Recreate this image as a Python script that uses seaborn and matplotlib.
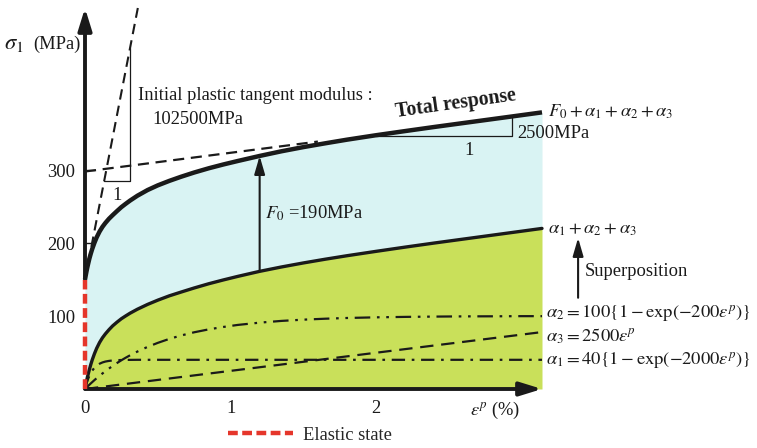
import matplotlib
matplotlib.use("Agg")
import matplotlib.pyplot as plt
from matplotlib.lines import Line2D
import seaborn as sns

# ---------------- data ----------------
strain = [0, 0.005, 0.01, 0.015, 0.02, 0.03, 0.04, 0.05, 0.065, 0.08, 0.1,
          0.12, 0.14, 0.165, 0.19, 0.22, 0.25, 0.28, 0.31, 0.36, 0.43, 0.5,
          0.58, 0.66, 0.75, 0.85, 0.95, 1.05, 1.2, 1.35, 1.5, 1.65, 1.8, 2.0,
          2.2, 2.4, 2.6, 2.8, 3.0, 3.14]
alpha_sum = [0, 5.2, 10.1, 14.7, 18.9, 26.6, 33.7, 40.1, 48.4, 55.7, 63.7,
             70.2, 75.5, 81.3, 86.5, 91.6, 96.3, 100.2, 103.9, 109.3, 115.9, 121.7,
             127.7, 132.8, 138.4, 144.2, 149.4, 154.3, 161.2, 167.2, 172.7, 177.8, 182.6, 188.6,
             194.4, 200.0, 205.4, 210.8, 216.2, 220.0]
total = [150, 155.5, 160.8, 165.7, 170.2, 178.6, 185.7, 192.1, 200.4, 207.7, 215.7,
         222.2, 227.5, 233.3, 238.2, 243.8, 249.2, 253.8, 258.2, 264.8, 272.6, 279.0,
         285.2, 290.8, 296.6, 302.4, 307.6, 312.4, 319.3, 325.7, 331.4, 336.6, 341.6, 347.7,
         353.4, 359.0, 364.4, 369.8, 375.2, 379.0]
alpha1 = [0, 3.8, 7.3, 10.4, 13.2, 18.1, 22.0, 25.3, 29.1, 31.9, 34.6,
          36.4, 37.6, 38.5, 39.1, 39.5, 39.7, 39.9, 39.9, 40, 40, 40,
          40, 40, 40, 40, 40, 40, 40, 40, 40, 40, 40, 40,
          40, 40, 40, 40, 40, 40]
alpha2 = [0, 1.0, 2.0, 3.0, 3.9, 5.8, 7.7, 9.5, 12.2, 14.8, 18.1,
          21.3, 24.4, 28.1, 31.6, 35.6, 39.4, 42.9, 46.2, 51.3, 57.7, 63.2,
          68.7, 73.3, 77.7, 81.7, 85.0, 87.8, 90.9, 93.3, 95.0, 96.3, 97.3, 98.2,
          98.8, 99.2, 99.5, 99.6, 99.8, 99.8]
alpha3_strain = [0, 3.14]
alpha3 = [0, 78]
elastic_strain = [0, 0]
elastic_stress = [0, 150]
tangent_strain = [0, 0.363]
tangent_stress = [150, 522]
asym_strain = [0, 1.6]
asym_stress = [298, 339]
tri1_x = [0.13, 0.309, 0.309]
tri1_y = [285, 285, 467]
tri2_x = [2.0, 2.935, 2.935]
tri2_y = [346, 346, 372]
f0_strain = 1.2
xticks = [0, 1, 2]
yticks = [100, 200, 300]
xmax, ymax = 3.14, 522

# ---------------- style ----------------
sns.set_theme(style="white")
plt.rcParams["font.family"] = ["Liberation Serif", "DejaVu Serif"]
plt.rcParams["mathtext.fontset"] = "stix"
FS = 13.3

W, H = 757, 448
fig = plt.figure(figsize=(W / 100, H / 100), dpi=100)
ax = fig.add_axes([85 / W, 1 - 389 / H, 457 / W, 381 / H])
ax.set_xlim(0, xmax)
ax.set_ylim(0, ymax)
for s in ax.spines.values():
    s.set_visible(False)

GREEN = "#c9e05a"
CYAN = "#d9f3f3"
RED = "#e5362b"

ax.fill_between(strain, 0, alpha_sum, color=GREEN, lw=0, zorder=1)
ax.fill_between(strain, alpha_sum, total, color=CYAN, lw=0, zorder=1)

kw = dict(ax=ax, estimator=None, sort=False, legend=False, clip_on=False)
sns.lineplot(x=strain, y=total, color="k", lw=3.2, zorder=5,
             solid_capstyle="butt", **kw)
sns.lineplot(x=strain, y=alpha_sum, color="k", lw=2.4, zorder=5, **kw)
sns.lineplot(x=strain, y=alpha2, color="k", lw=1.6, zorder=4,
             linestyle=(0, (7, 3, 1.2, 3, 1.2, 3)), **kw)
sns.lineplot(x=strain, y=alpha1, color="k", lw=1.6, zorder=4,
             linestyle=(0, (6, 3, 1.2, 3)), **kw)
sns.lineplot(x=alpha3_strain, y=alpha3, color="k", lw=1.6, zorder=4,
             linestyle=(0, (6, 3.5)), **kw)
sns.lineplot(x=tangent_strain, y=tangent_stress, color="k", lw=1.5, zorder=4,
             linestyle=(0, (5, 3)), **kw)
sns.lineplot(x=asym_strain, y=asym_stress, color="k", lw=1.6, zorder=4,
             linestyle=(0, (5, 3)), **kw)
sns.lineplot(x=tri1_x, y=tri1_y, color="k", lw=0.9, zorder=4, **kw)
sns.lineplot(x=tri2_x, y=tri2_y, color="k", lw=0.9, zorder=6, **kw)

# axes arrows
arr = dict(arrowstyle="-|>,head_length=0.55,head_width=0.17", lw=2.8, color="k",
           mutation_scale=24, shrinkA=0, shrinkB=0)
ax.annotate("", xy=(xmax, 0), xytext=(0, 0), arrowprops=arr,
            annotation_clip=False, zorder=7)
ax.annotate("", xy=(0, ymax), xytext=(0, elastic_stress[1]), arrowprops=arr,
            annotation_clip=False, zorder=7)

# elastic state
sns.lineplot(x=elastic_strain, y=elastic_stress, color=RED, lw=3.2, zorder=8,
             linestyle=(0, (2.2, 1.0)), **kw)

# F0 arrow
i0 = strain.index(f0_strain)
ax.annotate("", xy=(f0_strain, total[i0]), xytext=(f0_strain, alpha_sum[i0]),
            arrowprops=dict(arrowstyle="-|>,head_length=0.55,head_width=0.16",
                            lw=1.5, color="k", mutation_scale=20,
                            shrinkA=0, shrinkB=0), zorder=6)

# Superposition arrow
ax.annotate("", xy=(3.388, 207), xytext=(3.388, 125),
            arrowprops=dict(arrowstyle="-|>,head_length=0.55,head_width=0.16",
                            lw=1.5, color="k", mutation_scale=20,
                            shrinkA=0, shrinkB=0), annotation_clip=False)

# ticks
ax.set_xticks(xticks)
ax.set_yticks(yticks)
ax.tick_params(axis="both", direction="in", length=7, width=1, colors="k",
               labelsize=FS, bottom=True, left=True)
ax.tick_params(axis="x", pad=8)
ax.tick_params(axis="y", pad=7)


def ftxt(xp, yp, s, **k):
    k.setdefault("fontsize", FS)
    k.setdefault("va", "center")
    k.setdefault("ha", "left")
    fig.text(xp / W, 1 - yp / H, s, color="k", **k)


ftxt(4, 44, r"$\sigma_1$", fontsize=FS + 3)
ftxt(33, 44, "(MPa)")
ftxt(138, 96, "Initial plastic tangent modulus :")
ftxt(152, 120, "102500MPa")
ftxt(117, 195, "1", ha="center")
ftxt(265, 213, r"$F_0$ =190MPa")
ftxt(456, 104, "Total response", ha="center", fontsize=14.3,
     fontweight="bold", rotation=8, rotation_mode="anchor")
ftxt(517, 133, "2500MPa")
ftxt(469, 150, "1", ha="center")
ftxt(548, 112, r"$F_0+\alpha_1+\alpha_2+\alpha_3$")
ftxt(548, 229, r"$\alpha_1+\alpha_2+\alpha_3$")
ftxt(585, 271, "Superposition")
ftxt(546, 314, r"$\alpha_2 = 100\{1-\exp(-200\varepsilon^p)\}$")
ftxt(546, 336, r"$\alpha_3 = 2500\varepsilon^p$")
ftxt(546, 361, r"$\alpha_1 = 40\{1-\exp(-2000\varepsilon^p)\}$")
ftxt(470, 410, r"$\varepsilon^p$ (%)")

handle = Line2D([], [], color=RED, lw=3.2, linestyle=(0, (2.2, 1.0)))
fig.legend([handle], ["Elastic state"], loc="center left",
           bbox_to_anchor=(228 / W, 1 - 435 / H), frameon=False,
           fontsize=FS, handlelength=3.5, handletextpad=0.55,
           borderpad=0, borderaxespad=0)

fig.savefig("out.png", dpi=100)
